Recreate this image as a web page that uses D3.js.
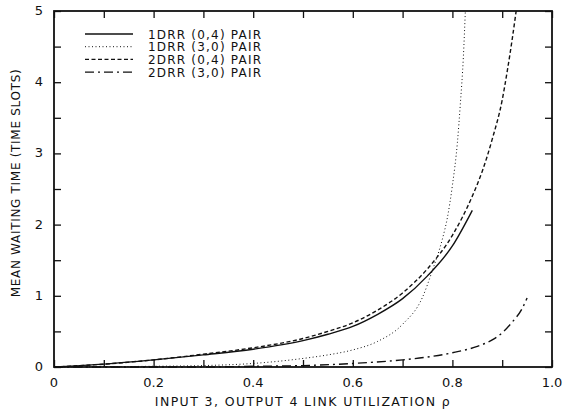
<!DOCTYPE html>
<html>
<head>
<meta charset="utf-8">
<script src="https://cdn.jsdelivr.net/npm/d3@7"></script>
<style>
  body { margin: 0; background: #fff; }
  text { font-family: "DejaVu Sans", sans-serif; fill: #111; }
</style>
</head>
<body>
<div class="container"></div>
<script>
// ===== DATA =====
var seriesNames = ["1DRR (0,4) PAIR", "1DRR (3,0) PAIR", "2DRR (0,4) PAIR", "2DRR (3,0) PAIR"];

var rho1DRR04 = [0, 0.1, 0.2, 0.3, 0.4, 0.5, 0.55, 0.6, 0.65, 0.7, 0.75, 0.8, 0.84];
var wait1DRR04 = [0, 0.04, 0.1, 0.17, 0.25, 0.37, 0.46, 0.57, 0.74, 0.96, 1.28, 1.7, 2.2];

var rho1DRR30 = [0, 0.2, 0.3, 0.4, 0.5, 0.55, 0.6, 0.65, 0.7, 0.74, 0.76, 0.78, 0.79, 0.8, 0.81, 0.816, 0.822, 0.826];
var wait1DRR30 = [0, 0.01, 0.02, 0.05, 0.12, 0.17, 0.24, 0.36, 0.6, 0.98, 1.36, 1.8, 2.1, 2.55, 3.15, 3.7, 4.35, 5.0];

var rho2DRR04 = [0, 0.1, 0.2, 0.3, 0.4, 0.5, 0.55, 0.6, 0.65, 0.7, 0.75, 0.8, 0.84, 0.86, 0.88, 0.9, 0.91, 0.92, 0.928];
var wait2DRR04 = [0, 0.04, 0.1, 0.18, 0.27, 0.4, 0.5, 0.62, 0.8, 1.04, 1.38, 1.85, 2.4, 2.75, 3.2, 3.75, 4.15, 4.6, 5.0];

var rho2DRR30 = [0, 0.3, 0.4, 0.5, 0.6, 0.7, 0.75, 0.8, 0.85, 0.88, 0.9, 0.92, 0.94, 0.95];
var wait2DRR30 = [0, 0.0, 0.01, 0.02, 0.05, 0.1, 0.14, 0.2, 0.29, 0.38, 0.48, 0.63, 0.82, 0.97];

var xTicks = [0, 0.2, 0.4, 0.6, 0.8, 1.0];
var yTicks = [0, 1, 2, 3, 4, 5];

var xTitle = "INPUT 3, OUTPUT 4 LINK UTILIZATION \u03C1";
var yTitle = "MEAN WAITING TIME (TIME SLOTS)";

// ===== SET UP CHART =====
var W = 575, H = 415;
var margin = {top: 11, right: 23, bottom: 48, left: 54};
var width = W - margin.left - margin.right,
    height = H - margin.top - margin.bottom;

var svg = d3.select('.container')
  .append('svg')
  .attr('width', W)
  .attr('height', H);

var g = svg.append('g')
  .attr('transform', 'translate(' + margin.left + ',' + margin.top + ')');

var xScale = d3.scaleLinear().domain([0, 1]).range([0, width]);
var yScale = d3.scaleLinear().domain([0, 5]).range([height, 0]);

var tickLen = 7;

// minor tick positions (inward)
var xMinor = d3.range(0, 11).map(function(i) { return i / 10; });
var yMinor = d3.range(0, 11).map(function(i) { return i / 2; });

// ticks on all four sides, pointing in
g.append('g')
  .attr('transform', 'translate(0,' + height + ')')
  .call(d3.axisBottom(xScale).tickValues(xMinor).tickSize(-tickLen).tickFormat(''))
  .call(function(a) { a.select('.domain').remove(); });
g.append('g')
  .call(d3.axisTop(xScale).tickValues(xMinor).tickSize(-tickLen).tickFormat(''))
  .call(function(a) { a.select('.domain').remove(); });
g.append('g')
  .call(d3.axisLeft(yScale).tickValues(yMinor).tickSize(-tickLen).tickFormat(''))
  .call(function(a) { a.select('.domain').remove(); });
g.append('g')
  .attr('transform', 'translate(' + width + ',0)')
  .call(d3.axisRight(yScale).tickValues(yMinor).tickSize(-tickLen).tickFormat(''))
  .call(function(a) { a.select('.domain').remove(); });

g.selectAll('.tick line').attr('stroke', '#111').attr('stroke-width', 1.3);

// tick labels
g.selectAll('.xlab')
  .data(xTicks)
  .enter().append('text')
  .attr('x', function(d) { return xScale(d); })
  .attr('y', height + 20)
  .attr('text-anchor', 'middle')
  .style('font-size', '13px')
  .text(function(d) { return d === 0 ? '0' : d.toFixed(1); });

g.selectAll('.ylab')
  .data(yTicks)
  .enter().append('text')
  .attr('x', -11)
  .attr('y', function(d) { return yScale(d) + 4; })
  .attr('text-anchor', 'end')
  .style('font-size', '13px')
  .text(function(d) { return d; });

// frame
g.append('rect')
  .attr('width', width)
  .attr('height', height)
  .attr('fill', 'none')
  .attr('stroke', '#111')
  .attr('stroke-width', 1.8);

// ===== CURVES =====
var series = [
  {x: rho1DRR04, y: wait1DRR04, dash: null},
  {x: rho1DRR30, y: wait1DRR30, dash: '1,2.5'},
  {x: rho2DRR04, y: wait2DRR04, dash: '4,2.5'},
  {x: rho2DRR30, y: wait2DRR30, dash: '9,4,2,4'}
];

var line = d3.line()
  .x(function(d) { return xScale(d[0]); })
  .y(function(d) { return yScale(d[1]); })
  .curve(d3.curveMonotoneX);

series.forEach(function(s) {
  var pts = s.x.map(function(v, i) { return [v, s.y[i]]; });
  g.append('path')
    .datum(pts)
    .attr('d', line)
    .attr('fill', 'none')
    .attr('stroke', '#111')
    .attr('stroke-width', s.dash === '1,2.5' ? 1 : 1.4)
    .attr('stroke-dasharray', s.dash);
});

// ===== LEGEND =====
var legend = svg.append('g').attr('transform', 'translate(85,34)');
seriesNames.forEach(function(name, i) {
  var row = legend.append('g').attr('transform', 'translate(0,' + (i * 12.7) + ')');
  row.append('line')
    .attr('x1', 0).attr('x2', 48)
    .attr('y1', 0).attr('y2', 0)
    .attr('stroke', '#111')
    .attr('stroke-width', series[i].dash === '1,2.5' ? 1 : 1.3)
    .attr('stroke-dasharray', series[i].dash);
  row.append('text')
    .attr('x', 63)
    .attr('y', 4.5)
    .style('font-size', '12px')
    .style('letter-spacing', '1.2px')
    .text(name);
});

// ===== LABELS =====
svg.append('text')
  .attr('x', margin.left + width / 2)
  .attr('y', 406)
  .attr('text-anchor', 'middle')
  .style('font-size', '12.5px')
  .style('letter-spacing', '1.4px')
  .text(xTitle);

svg.append('text')
  .attr('transform', 'rotate(-90)')
  .attr('x', -(margin.top + height / 2) + 6)
  .attr('y', 20)
  .attr('text-anchor', 'middle')
  .style('font-size', '12px')
  .style('letter-spacing', '0.7px')
  .text(yTitle);
</script>
</body>
</html>
